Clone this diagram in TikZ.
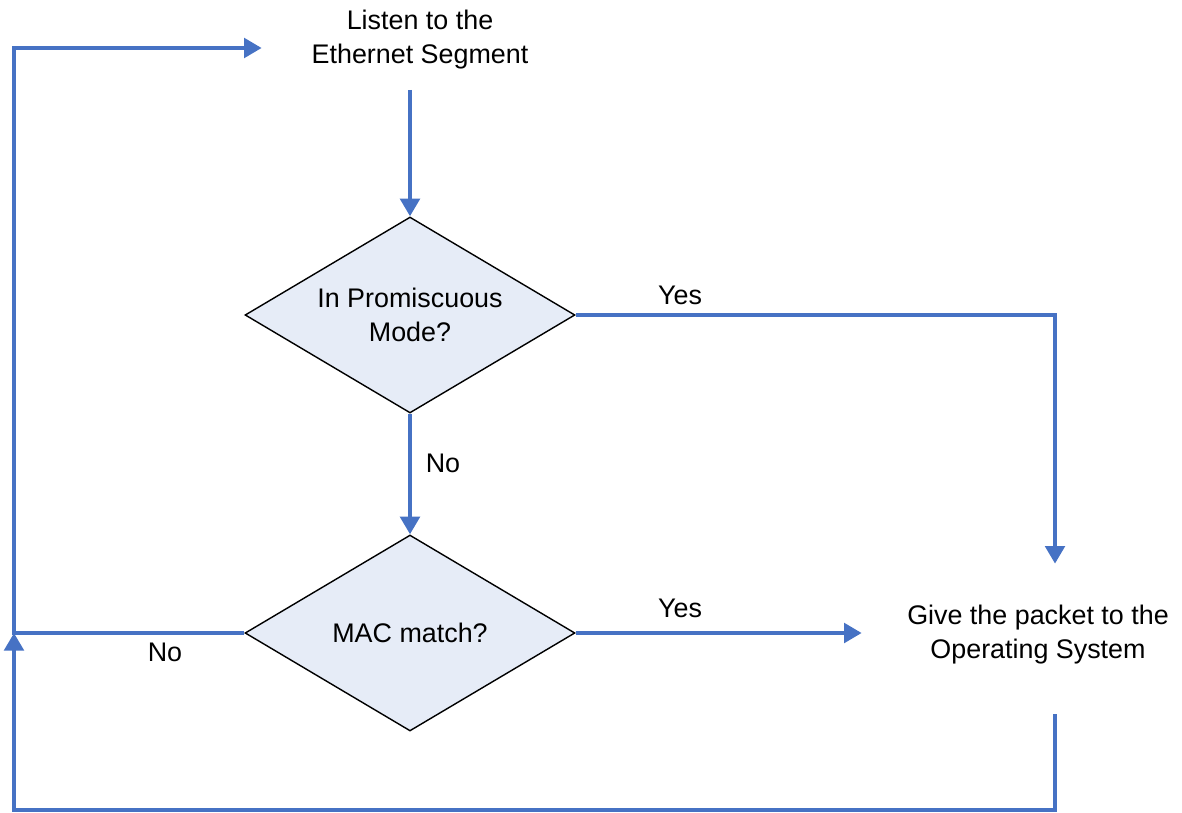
\documentclass[tikz,border=0pt]{standalone}
\usepackage{fontspec}
\setmainfont{Liberation Sans}
\usetikzlibrary{shapes.geometric,arrows.meta,calc}
\definecolor{lineblue}{RGB}{70,114,196}
\definecolor{diafill}{RGB}{230,236,247}
\begin{document}
\begin{tikzpicture}[x=0.02cm,y=-0.02cm,
  every node/.style={font=\fontsize{15.3}{19.3}\selectfont, inner sep=0pt, align=center},
  wire/.style={draw=lineblue, line width=2.3pt, line join=miter},
  conn/.style={wire, -{Triangle[length=10pt,width=11pt]}},
  decision/.style={diamond, aspect=1.68, draw=black, line width=0.8pt, fill=diafill,
    minimum width=6.6cm, minimum height=3.92cm},
  lbl/.style={}]
\useasboundingbox (0,0) rectangle (1182,813);
% nodes
\node[minimum width=6.32cm, minimum height=1.98cm] (listen) at (420,40) {Listen to the\\Ethernet Segment};
\node[decision] (d1) at (410,315) {In Promiscuous\\Mode?};
\node[decision] (d2) at (410,633) {MAC match?};
\node[minimum width=7.04cm, minimum height=2.84cm] (give) at (1038,635) {Give the packet to the\\Operating System};
% helper coordinates
\coordinate (rc) at (1055,810);
\coordinate (lc) at (14,810);
\coordinate (tl) at (14,48);
% connectors
\draw[conn] (listen.south -| d1.north) -- (d1.north);
\draw[conn] (d1.east) -| (give.north -| rc);
\draw[conn] (d1.south) -- (d2.north);
\draw[conn] (d2.east) -- (give.west |- d2.east);
\draw[conn] ($(give.south -| rc)+(0,8)$) -- (rc) -- (lc) -- (d2.west -| lc);
\draw[conn] (d2.west) -- (d2.west -| lc) -- (tl) -- (tl -| listen.west);
% labels
\node[lbl] (y1) at (680,295) {Yes};
\node[lbl] (n1) at (443,463) {No};
\node[lbl] (y2) at (680,608) {Yes};
\node[lbl] (n2) at (165,652) {No};
\end{tikzpicture}
\end{document}
